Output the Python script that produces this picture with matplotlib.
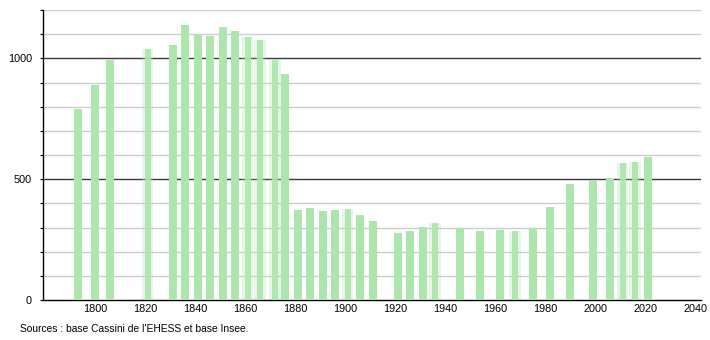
import matplotlib
matplotlib.use("Agg")
import matplotlib.pyplot as plt
import numpy as np

years = [1793, 1800, 1806, 1821, 1831, 1836, 1841, 1846, 1851, 1856, 1861, 1866,
         1872, 1876, 1881, 1886, 1891, 1896, 1901, 1906, 1911, 1921, 1926, 1931,
         1936, 1946, 1954, 1962, 1968, 1975, 1982, 1990, 1999, 2006, 2011, 2016, 2021]
population = [792, 888, 992, 1037, 1054, 1137, 1100, 1093, 1131, 1112, 1087, 1075,
              997, 934, 373, 382, 369, 373, 378, 353, 328, 278, 286, 303,
              320, 297, 286, 290, 286, 297, 386, 481, 495, 506, 567, 573, 590]
soft_years = [1821, 1861, 1866, 1872, 1901, 1936, 1968, 2011, 2016]
x_ticks = [1800, 1820, 1840, 1860, 1880, 1900, 1920, 1940, 1960, 1980, 2000, 2020, 2040]
y_major = [0, 500, 1000]
source_text = "Sources : base Cassini de l'EHESS et base Insee."

plt.rcParams['font.family'] = ['Liberation Sans', 'DejaVu Sans']

fig = plt.figure(figsize=(7.1, 3.4), dpi=100)
ax = fig.add_axes([43/710, 1-300/340, (701-43)/710, 290/340])
ax.set_xlim(1779.2, 2042.4)
ax.set_ylim(0, 1200)

# gridlines
for v in range(100, 1201, 100):
    if v in y_major:
        ax.axhline(v, color='#3a3a3a', lw=1.0, zorder=1)
    else:
        ax.axhline(v, color='#cccccc', lw=1.0, zorder=1)

bar_color = '#ade6ad'
for yr, p in zip(years, population):
    if yr in soft_years:
        ax.bar(yr, p, width=4.6, color=bar_color, alpha=0.3, zorder=2, linewidth=0)
        ax.bar(yr, p, width=2.4, color=bar_color, alpha=0.9, zorder=3, linewidth=0)
    else:
        ax.bar(yr, p, width=3.2, color=bar_color, zorder=3, linewidth=0)

for s in ['top', 'right']:
    ax.spines[s].set_visible(False)
ax.spines['left'].set_color('black')
ax.spines['bottom'].set_color('black')
ax.spines['left'].set_linewidth(1.0)
ax.spines['bottom'].set_linewidth(1.0)

ax.set_yticks(list(range(0, 1201, 100)))
ax.set_yticklabels([str(v) if v in y_major else '' for v in range(0, 1201, 100)])
ax.tick_params(axis='y', length=2, width=0.8, labelsize=7.8, pad=6)
ax.set_xticks(x_ticks)
ax.set_xticklabels([str(t) for t in x_ticks])
ax.tick_params(axis='x', length=0, labelsize=7.8, pad=3)

fig.text(20/710, 1-329/340, source_text, fontsize=7.4, va='center', ha='left')

fig.savefig('out.png', dpi=100)
